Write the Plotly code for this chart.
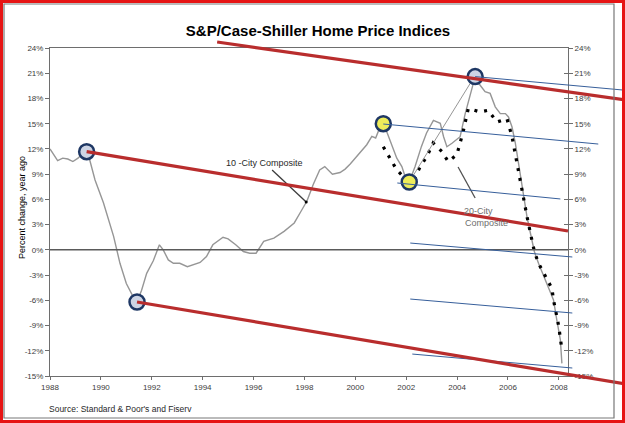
import plotly.graph_objects as go

# ---------------- data ----------------
city10_years = [1988.0, 1988.15, 1988.3, 1988.5, 1988.7, 1988.9, 1989.1, 1989.3, 1989.44, 1989.57,
                1989.77, 1990.1, 1990.5, 1990.75, 1991.0, 1991.27, 1991.42, 1991.6, 1991.8, 1992.06,
                1992.3, 1992.45, 1992.65, 1992.85, 1993.1, 1993.4, 1993.6, 1993.9, 1994.15, 1994.4,
                1994.8, 1995.0, 1995.3, 1995.6, 1995.85, 1996.1, 1996.4, 1996.8, 1997.2, 1997.6,
                1997.85, 1998.1, 1998.35, 1998.6, 1998.8, 1999.1, 1999.4, 1999.6, 1999.8, 2000.0,
                2000.2, 2000.45, 2000.65, 2000.8, 2000.9, 2001.1, 2001.24, 2001.44, 2001.63, 2001.83,
                2001.96, 2002.12, 2002.35, 2002.6, 2002.8, 2003.07, 2003.34, 2003.47, 2003.6, 2003.8,
                2004.12, 2004.32, 2004.52, 2004.71, 2004.9, 2005.1, 2005.3, 2005.5, 2005.7, 2005.9,
                2006.02, 2006.16, 2006.29, 2006.42, 2006.55, 2006.75, 2006.94, 2007.04, 2007.2, 2007.53,
                2007.79, 2007.92, 2008.06, 2008.12]
city10_values = [12.0, 11.3, 10.6, 10.9, 10.8, 10.5, 10.9, 11.5, 11.65, 10.6,
                 8.3, 5.6, 1.6, -1.6, -4.0, -5.6, -6.2, -4.8, -2.8, -1.3,
                 0.6, 0.0, -1.2, -1.6, -1.6, -2.0, -1.8, -1.5, -0.8, 0.6,
                 1.5, 1.3, 0.6, -0.2, -0.4, -0.4, 1.0, 1.4, 2.2, 3.2,
                 4.5, 5.8, 7.8, 9.5, 9.9, 9.0, 9.2, 9.6, 10.2, 10.9,
                 11.5, 12.5, 13.5, 13.3, 14.05, 15.0, 14.0, 12.3, 10.9, 9.9,
                 8.7, 8.07, 9.9, 12.3, 13.9, 15.4, 15.05, 13.45, 12.26, 12.67,
                 13.45, 16.2, 18.6, 20.6, 19.6, 18.8, 18.6, 17.0, 16.2, 16.2,
                 15.8, 14.6, 12.7, 10.3, 7.5, 3.9, 1.17, -0.22, -1.6, -4.0,
                 -5.96, -8.34, -10.7, -13.5]

city20_years = [2001.1, 2001.37, 2001.63, 2001.96, 2002.27, 2002.55, 2002.81, 2003.06, 2003.4, 2003.65,
                2003.99, 2004.24, 2004.44, 2004.91, 2005.22, 2005.57, 2005.96, 2006.16, 2006.35, 2006.55,
                2006.75, 2006.94, 2007.04, 2007.2, 2007.73, 2007.79, 2007.9, 2007.99, 2008.06, 2008.12]
city20_values = [12.26, 10.9, 9.5, 8.5, 8.1, 9.9, 11.1, 12.7, 11.7, 10.5,
                 11.3, 14.05, 16.8, 16.4, 16.6, 15.2, 15.6, 13.45, 10.3, 7.1,
                 3.94, 1.17, -0.2, -1.6, -4.6, -5.96, -7.5, -9.0, -10.5, -11.9]

# highlighted turning points
blue_circle_years = [1989.44, 1991.42, 2004.71]
blue_circle_values = [11.67, -6.2, 20.6]
yellow_circle_years = [2001.1, 2002.12]
yellow_circle_values = [15.0, 8.07]

# hand-drawn trend lines (year0, value0, year1, value1)
red_trend_lines = [
    (1989.44, 11.67, 2008.36, 2.24),
    (1991.42, -6.2, 2010.61, -15.95),
    (1994.57, 24.71, 2010.61, 17.82),
]
blue_trend_lines = [
    (2001.1, 14.96, 2009.55, 12.58),
    (2004.71, 20.6, 2010.53, 19.0),
    (2001.65, 7.95, 2008.06, 6.05),
    (2002.16, 0.81, 2008.53, -0.85),
    (2002.16, -5.85, 2008.53, -7.51),
    (2002.24, -12.39, 2008.53, -14.05),
]
gray_guide_line = (2002.12, 8.07, 2004.62, 20.3)

# label pointers (year0, value0, year1, value1)
pointer10 = (1996.73, 9.49, 1998.07, 5.69)
pointer20 = (2004.04, 9.85, 2004.71, 6.16)

x_ticks = list(range(1988, 2009, 2))
y_ticks = list(range(-15, 25, 3))
y_tick_labels = [f"{v}%" for v in y_ticks]

X_RANGE = [1988, 2008.36]
Y_RANGE = [-15, 24]

# ---------------- figure ----------------
W, H = 625, 423
ML, MR, MT, MB = 50, 57, 48, 47
PW, PH = W - ML - MR, H - MT - MB
FONT = "Arial, Liberation Sans, sans-serif"


def to_dom(year, val):
    return ((year - X_RANGE[0]) / (X_RANGE[1] - X_RANGE[0]),
            (val - Y_RANGE[0]) / (Y_RANGE[1] - Y_RANGE[0]))


def px_paper(px, py):
    return (px - ML) / PW, (H - MB - py) / PH


fig = go.Figure()

# 10-City
fig.add_trace(go.Scatter(x=city10_years, y=city10_values, mode="lines",
                         line=dict(color="rgb(150,150,150)", width=1.4),
                         hoverinfo="skip", showlegend=False))
# 20-City
fig.add_trace(go.Scatter(x=city20_years, y=city20_values, mode="lines",
                         line=dict(color="black", width=3.2, dash="3px,7px"),
                         hoverinfo="skip", showlegend=False))

# pointers
for p, col in [(pointer10, "rgb(60,60,60)"), (pointer20, "rgb(80,80,80)")]:
    fig.add_trace(go.Scatter(x=[p[0], p[2]], y=[p[1], p[3]], mode="lines",
                             line=dict(color=col, width=1.3), hoverinfo="skip",
                             showlegend=False))
fig.add_trace(go.Scatter(x=[pointer10[2]], y=[pointer10[3]], mode="markers",
                         marker=dict(color="black", size=3), hoverinfo="skip",
                         showlegend=False))

# zero line
fig.add_hline(y=0, line=dict(color="rgb(90,90,90)", width=1.5), layer="above")

# guide line
g = gray_guide_line
fig.add_trace(go.Scatter(x=[g[0], g[2]], y=[g[1], g[3]], mode="lines",
                         line=dict(color="rgb(150,150,150)", width=1),
                         hoverinfo="skip", showlegend=False))

# trend lines as shapes (not clipped to plot area)
for (x0, y0, x1, y1) in blue_trend_lines:
    a, b = to_dom(x0, y0)
    c, d = to_dom(x1, y1)
    fig.add_shape(type="line", xref="x domain", yref="y domain", x0=a, y0=b, x1=c, y1=d,
                  line=dict(color="rgb(55,95,155)", width=1))
for (x0, y0, x1, y1) in red_trend_lines:
    a, b = to_dom(x0, y0)
    c, d = to_dom(x1, y1)
    fig.add_shape(type="line", xref="x domain", yref="y domain", x0=a, y0=b, x1=c, y1=d,
                  line=dict(color="rgb(185,45,45)", width=3.2))

# circles
fig.add_trace(go.Scatter(x=blue_circle_years, y=blue_circle_values, mode="markers",
                         marker=dict(size=15, color="rgba(205,212,228,1)",
                                     line=dict(color="rgb(30,55,100)", width=2.5)),
                         cliponaxis=False, hoverinfo="skip", showlegend=False))
fig.add_trace(go.Scatter(x=yellow_circle_years, y=yellow_circle_values, mode="markers",
                         marker=dict(size=15, color="rgb(238,236,90)",
                                     line=dict(color="rgb(30,55,100)", width=2.5)),
                         cliponaxis=False, hoverinfo="skip", showlegend=False))

# secondary axes carriers (invisible)
fig.add_trace(go.Scatter(x=[X_RANGE[0]], y=[0], yaxis="y2", mode="markers",
                         marker=dict(opacity=0), hoverinfo="skip", showlegend=False))
fig.add_trace(go.Scatter(x=[X_RANGE[0]], y=[0], yaxis="y3", mode="markers",
                         marker=dict(opacity=0), hoverinfo="skip", showlegend=False))

tickfont = dict(family=FONT, size=8, color="rgb(60,60,60)")
axis_line = "rgb(110,110,110)"

fig.update_layout(
    width=W, height=H,
    margin=dict(l=ML, r=MR, t=MT, b=MB),
    paper_bgcolor="white", plot_bgcolor="white",
    title=dict(text="<b>S&P/Case-Shiller Home Price Indices</b>",
               x=318 / W, xref="container", xanchor="center",
               y=1 - 31 / H, yref="container", yanchor="middle",
               font=dict(family=FONT, size=15, color="black")),
    xaxis=dict(range=X_RANGE, tickmode="array", tickvals=x_ticks,
               ticktext=[str(t) for t in x_ticks],
               showgrid=False, zeroline=False, showline=True, linecolor=axis_line,
               linewidth=1, mirror=True, ticks="outside", ticklen=3, tickcolor=axis_line,
               tickfont=tickfont),
    yaxis=dict(range=Y_RANGE, tickmode="array", tickvals=y_ticks, ticktext=y_tick_labels,
               showgrid=False, zeroline=False, showline=True, linecolor=axis_line, linewidth=1,
               ticks="outside", ticklen=4, tickcolor=axis_line, tickfont=tickfont),
    yaxis2=dict(range=Y_RANGE, tickmode="array", tickvals=y_ticks, ticktext=y_tick_labels,
                overlaying="y", side="right", showgrid=False, zeroline=False, showline=True,
                linecolor=axis_line, linewidth=1, ticks="outside", ticklen=4,
                tickcolor=axis_line, tickfont=tickfont),
    yaxis3=dict(range=Y_RANGE, tickmode="array", tickvals=y_ticks, overlaying="y",
                side="right", showgrid=False, zeroline=False, showline=False, ticks="inside",
                ticklen=4, tickcolor=axis_line, showticklabels=False),
    showlegend=False,
)

# text annotations
ax, ay = px_paper(15, 208)
fig.add_annotation(text="Percent change, year ago", xref="paper", yref="paper",
                   x=ax, y=ay, textangle=-90, showarrow=False,
                   font=dict(family=FONT, size=9, color="black"))
sx, sy = px_paper(47, 409)
fig.add_annotation(text="Source: Standard & Poor's and Fiserv", xref="paper", yref="paper",
                   x=sx, y=sy, xanchor="left", yanchor="middle", showarrow=False,
                   font=dict(family=FONT, size=8.5, color="rgb(40,40,40)"))
fig.add_annotation(text="10 -City Composite", x=1996.45, y=10.33, showarrow=False,
                   font=dict(family=FONT, size=9, color="rgb(40,40,40)"))
fig.add_annotation(text="20-City", x=2004.85, y=4.62, showarrow=False,
                   font=dict(family=FONT, size=9, color="rgb(110,110,110)"))
fig.add_annotation(text="Composite", x=2005.15, y=3.19, showarrow=False,
                   font=dict(family=FONT, size=9, color="rgb(110,110,110)"))

# frames
gx0, gy0 = px_paper(4, 4)
gx1, gy1 = px_paper(614, 418)
fig.add_shape(type="rect", xref="paper", yref="paper", x0=gx0, y0=gy1, x1=gx1, y1=gy0,
              line=dict(color="rgb(120,120,120)", width=1.2))
rx0, ry0 = px_paper(1.5, 1.5)
rx1, ry1 = px_paper(623.5, 421.5)
fig.add_shape(type="rect", xref="paper", yref="paper", x0=rx0, y0=ry1, x1=rx1, y1=ry0,
              line=dict(color="rgb(230,20,20)", width=3))

fig.write_html("out.html")
